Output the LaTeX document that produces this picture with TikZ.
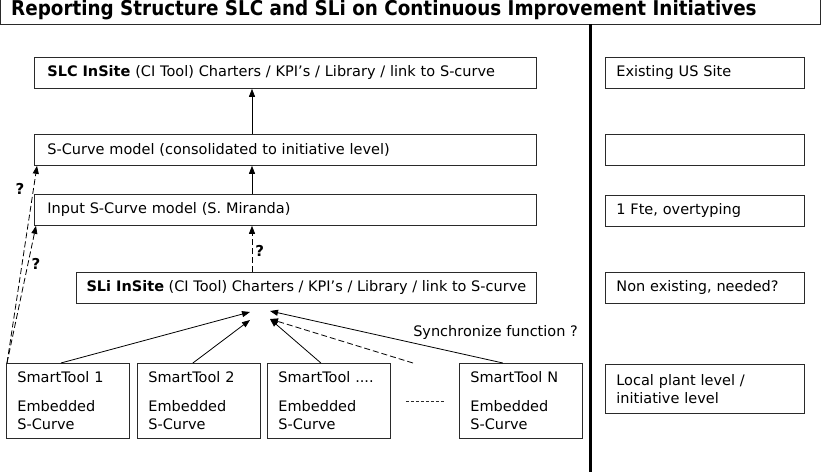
\documentclass[tikz,border=0pt]{standalone}
\usepackage{fontspec}
\setmainfont{DejaVu Sans}
\newfontfamily\headfont{DejaVu Sans Condensed}
\usetikzlibrary{arrows.meta,positioning}
\definecolor{cLine}{HTML}{2A2A2A}
\tikzset{
  box/.style   = {rectangle, draw=cLine, line width=0.8pt, anchor=north west,
                  align=left, font=\fontsize{14.5}{18}\selectfont,
                  inner ysep=0pt, minimum height=31pt},
  lvl/.style   = {box, inner xsep=13pt, text width=476pt},
  tool/.style  = {box, inner xsep=11pt, text width=101pt, minimum height=75pt},
  note/.style  = {box, inner xsep=11pt, text width=177pt},
  arr/.style   = {-{Triangle[length=8pt,width=6pt]}, draw=black, line width=0.8pt},
  arrd/.style  = {arr, dash pattern=on 6pt off 3pt},
  qm/.style    = {font=\bfseries\fontsize{15}{17}\selectfont, inner sep=0pt},
}

\begin{document}
\begin{tikzpicture}[x=1pt,y=-1pt]
  \useasboundingbox (0,0) rectangle (822,472);

  % ---- title bar ----
  \draw[cLine, line width=0.8pt] (0,-5) rectangle (820,24);
  \node[anchor=base west, inner sep=0pt,
        font=\headfont\bfseries\fontsize{20.4}{24}\selectfont] (title) at (11,15)
    {Reporting Structure SLC and SLi on Continuous Improvement Initiatives};
  \draw[line width=3pt] (590,24) -- (590,472);

  % ---- reporting levels ----
  \node[lvl] (slc) at (34,57)
    {\textbf{SLC InSite} (CI Tool) Charters / KPI’s / Library / link to S-curve};
  \node[lvl] (scurve) at (34,134) {S-Curve model (consolidated to initiative level)};
  \node[lvl] (input) at (34,194) {Input S-Curve model (S. Miranda)};
  \node[box, inner xsep=10pt, minimum width=460pt] (sli) at (76,272)
    {\textbf{SLi InSite} (CI Tool) Charters / KPI’s / Library / link to S-curve};

  % ---- smart tools ----
  \node[tool] (st1) at (6,363)   {SmartTool 1\\[11pt]Embedded\\S-Curve};
  \node[tool] (st2) at (137,363) {SmartTool 2\\[11pt]Embedded\\S-Curve};
  \node[tool] (st3) at (267,363) {SmartTool ....\\[11pt]Embedded\\S-Curve};
  \node[tool] (stn) at (459,363) {SmartTool N\\[11pt]Embedded\\S-Curve};
  \draw[cLine, thin, dash pattern=on 3pt off 2pt] (st3.east |- 0,401) ++(15,0) -- (444,401);

  % ---- right column ----
  \node[note] (n1) at (605,57)  {Existing US Site};
  \node[note] (n2) at (605,134) {};
  \node[note] (n3) at (605,195) {1 Fte, overtyping};
  \node[note] (n4) at (605,272) {Non existing, needed?};
  \node[note, minimum height=49pt] (n5) at (605,364) {Local plant level /\\initiative level};

  % ---- connectors ----
  \coordinate (mid) at (252,0);
  \coordinate (tA) at (250,312);
  \coordinate (tB) at (250,320);
  \coordinate (tC) at (270,319);
  \coordinate (tD) at (270,311);
  \coordinate (sync) at (413,363);

  \draw[arr] (scurve.north -| mid) -- (slc.south -| mid);
  \draw[arr] (input.north -| mid) -- (scurve.south -| mid);
  \draw[arrd] (sli.north -| mid) -- node[qm, right=3pt, pos=0.45] {?} (input.south -| mid);

  \draw[arr] ([xshift=-7pt]st1.north) -- (tA);
  \draw[arr] ([xshift=-6pt]st2.north) -- (tB);
  \draw[arr] ([xshift=-8pt]st3.north) -- (tC);
  \draw[arr] ([xshift=-18pt]stn.north) -- (tD);
  \draw[arrd] (sync) -- (tC);
  \node[anchor=east, font=\fontsize{14.5}{18}\selectfont, inner sep=0pt] (synclab) at (578,332)
    {Synchronize function ?};

  \draw[arrd] ([xshift=1pt]st1.north west) -- ([xshift=3pt]scurve.south west);
  \draw[arrd] ([xshift=1pt]st1.north west) -- ([xshift=2pt]input.south west);
  \node[qm] (q1) at (20,189) {?};
  \node[qm] (q2) at (36,264) {?};
\end{tikzpicture}
\end{document}
